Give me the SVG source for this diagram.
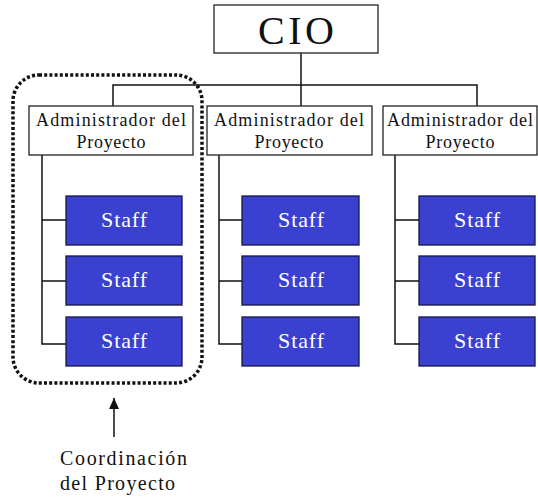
<svg xmlns="http://www.w3.org/2000/svg" width="538" height="500" viewBox="0 0 538 500">
  <defs>
    <style>
      .box { fill: #ffffff; stroke: #222222; stroke-width: 1.3; }
      .staff { fill: #3a40cf; stroke: #15154a; stroke-width: 1.3; }
      .line { stroke: #111111; stroke-width: 1.5; fill: none; }
      .serif { font-family: "Liberation Serif", "Times New Roman", serif; fill: #111111; }
      .adm { font-size: 18px; }
      .st { font-family: "Liberation Serif", "Times New Roman", serif; font-size: 22px; fill: #ffffff; }
      .note { font-family: "Liberation Serif", "Times New Roman", serif; font-size: 20px; fill: #111111; }
    </style>
    <marker id="arrowhead" markerWidth="12" markerHeight="12" refX="11" refY="5" orient="auto" markerUnits="userSpaceOnUse">
      <path d="M0,0 L11,5 L0,10 Z" fill="#111111"/>
    </marker>
  </defs>

  <rect width="538" height="500" fill="#ffffff"/>

  <!-- connectors -->
  <g id="connectors">
    <path class="line" d="M301,53 V85"/>
    <path class="line" d="M113,106 V85 H477 V106"/>
    <path class="line" d="M301,85 V106"/>
    <!-- column 1 -->
    <path class="line" d="M42,155 V344 H66 M42,220 H66 M42,281 H66"/>
    <!-- column 2 -->
    <path class="line" d="M219,155 V344 H242 M219,220 H242 M219,281 H242"/>
    <!-- column 3 -->
    <path class="line" d="M395,155 V344 H419 M395,220 H419 M395,281 H419"/>
  </g>

  <!-- top node -->
  <g id="cio">
    <rect class="box" x="214" y="5" width="164" height="48"/>
    <text class="serif" x="296" y="44" font-size="40" text-anchor="middle" textLength="76" lengthAdjust="spacing">CIO</text>
  </g>

  <!-- project managers -->
  <g id="admin-1">
    <rect class="box" x="29" y="106" width="164" height="49"/>
    <text class="serif adm" x="111" y="126" text-anchor="middle" textLength="150" lengthAdjust="spacing">Administrador del</text>
    <text class="serif adm" x="111" y="148" text-anchor="middle" textLength="69" lengthAdjust="spacing">Proyecto</text>
  </g>
  <g id="admin-2">
    <rect class="box" x="207" y="106" width="165" height="49"/>
    <text class="serif adm" x="289" y="126" text-anchor="middle" textLength="150" lengthAdjust="spacing">Administrador del</text>
    <text class="serif adm" x="289" y="148" text-anchor="middle" textLength="69" lengthAdjust="spacing">Proyecto</text>
  </g>
  <g id="admin-3">
    <rect class="box" x="383" y="106" width="154" height="49"/>
    <text class="serif adm" x="460" y="126" text-anchor="middle" textLength="146" lengthAdjust="spacing">Administrador del</text>
    <text class="serif adm" x="460" y="148" text-anchor="middle" textLength="69" lengthAdjust="spacing">Proyecto</text>
  </g>

  <!-- staff, column 1 -->
  <g id="staff-1-1"><rect class="staff" x="66" y="196" width="116" height="49"/><text class="st" x="124" y="227" text-anchor="middle" textLength="46" lengthAdjust="spacing">Staff</text></g>
  <g id="staff-1-2"><rect class="staff" x="66" y="256" width="116" height="49"/><text class="st" x="124" y="287" text-anchor="middle" textLength="46" lengthAdjust="spacing">Staff</text></g>
  <g id="staff-1-3"><rect class="staff" x="66" y="317" width="116" height="49"/><text class="st" x="124" y="348" text-anchor="middle" textLength="46" lengthAdjust="spacing">Staff</text></g>

  <!-- staff, column 2 -->
  <g id="staff-2-1"><rect class="staff" x="242" y="196" width="117" height="49"/><text class="st" x="301" y="227" text-anchor="middle" textLength="46" lengthAdjust="spacing">Staff</text></g>
  <g id="staff-2-2"><rect class="staff" x="242" y="256" width="117" height="49"/><text class="st" x="301" y="287" text-anchor="middle" textLength="46" lengthAdjust="spacing">Staff</text></g>
  <g id="staff-2-3"><rect class="staff" x="242" y="317" width="117" height="49"/><text class="st" x="301" y="348" text-anchor="middle" textLength="46" lengthAdjust="spacing">Staff</text></g>

  <!-- staff, column 3 -->
  <g id="staff-3-1"><rect class="staff" x="419" y="196" width="116" height="49"/><text class="st" x="477" y="227" text-anchor="middle" textLength="46" lengthAdjust="spacing">Staff</text></g>
  <g id="staff-3-2"><rect class="staff" x="419" y="256" width="116" height="49"/><text class="st" x="477" y="287" text-anchor="middle" textLength="46" lengthAdjust="spacing">Staff</text></g>
  <g id="staff-3-3"><rect class="staff" x="419" y="317" width="116" height="49"/><text class="st" x="477" y="348" text-anchor="middle" textLength="46" lengthAdjust="spacing">Staff</text></g>

  <!-- dotted outline around the first project team -->
  <g id="coordination-outline">
    <rect x="13" y="75" width="189" height="308" rx="26" ry="26" fill="none" stroke="#111111" stroke-width="3.5" stroke-dasharray="3 2.2"/>
  </g>

  <!-- callout -->
  <g id="coordination-label">
    <line x1="114" y1="437" x2="114" y2="398" stroke="#111111" stroke-width="1.5" marker-end="url(#arrowhead)"/>
    <text class="note" x="60" y="465" textLength="127" lengthAdjust="spacing">Coordinación</text>
    <text class="note" x="60" y="490" textLength="115" lengthAdjust="spacing">del Proyecto</text>
  </g>
</svg>
